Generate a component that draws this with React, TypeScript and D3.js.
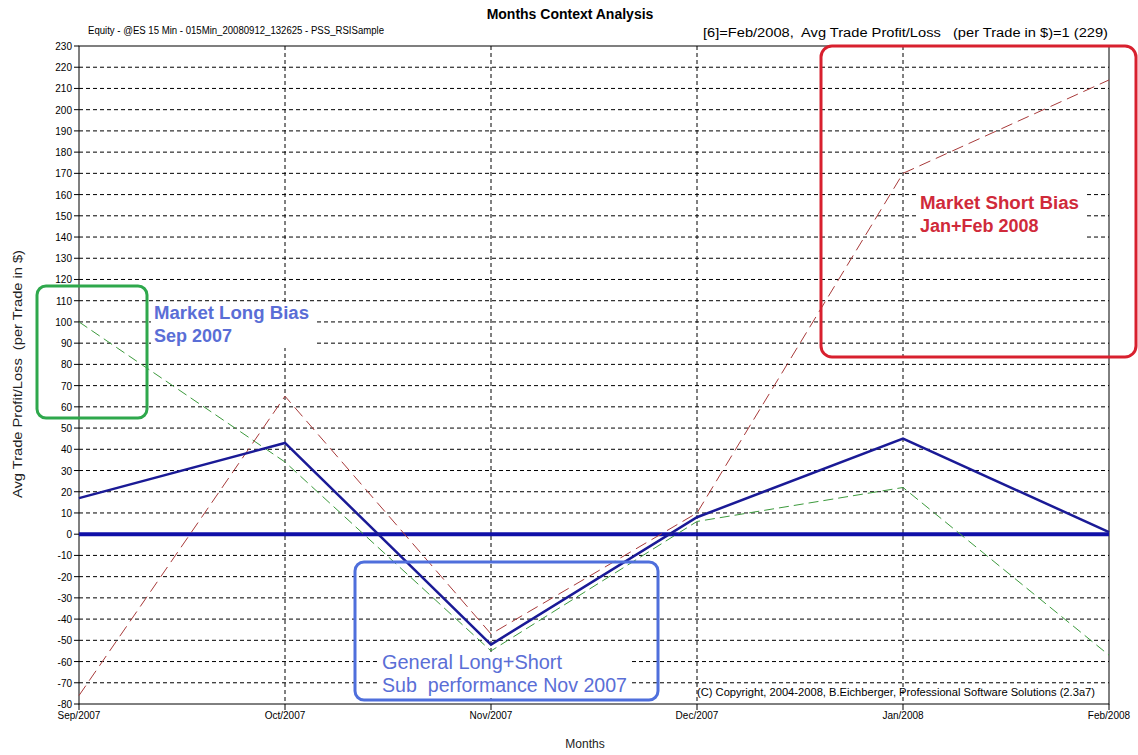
import React from "react";
import * as d3 from "d3";

const months = ["Sep/2007", "Oct/2007", "Nov/2007", "Dec/2007", "Jan/2008", "Feb/2008"];
const allTrades = [17, 43, -52, 8, 45, 1];
const longTrades = [100, 34, -55, 6, 22, -57];
const shortTrades = [-76, 65, -47, 10, 170, 214];
const yTicks = d3.range(-80, 231, 10);

const W = 1138;
const H = 755;
const FONT = "'Liberation Sans', Arial, sans-serif";

export default function App() {
  const x = d3.scalePoint<string>().domain(months).range([79, 1109]);
  const y = d3.scaleLinear().domain([-80, 230]).range([704, 46]);
  const line = d3
    .line<number>()
    .x((_, i) => x(months[i]) as number)
    .y((d) => y(d));

  return (
    <svg width={W} height={H} style={{ position: "absolute", left: 0, top: 0, background: "#fff" }} fontFamily={FONT}>
      {/* horizontal grid */}
      {yTicks
        .filter((t) => t > -80 && t < 230)
        .map((t) => (
          <line key={"h" + t} x1={79} x2={1109} y1={y(t)} y2={y(t)} stroke="#000" strokeDasharray="4,3" />
        ))}
      {/* vertical grid */}
      {months.slice(1, -1).map((m) => (
        <line key={"v" + m} x1={x(m)} x2={x(m)} y1={46} y2={704} stroke="#000" strokeDasharray="4,3" />
      ))}
      {/* frame */}
      <rect x={79} y={46} width={1030} height={658} fill="none" stroke="#000" strokeWidth={1} />
      {/* y ticks */}
      {yTicks.map((t) => (
        <g key={"yt" + t}>
          <line x1={74} x2={79} y1={y(t)} y2={y(t)} stroke="#000" />
          <text x={72} y={y(t) + 4} fontSize={10} textAnchor="end" fill="#000">
            {t}
          </text>
        </g>
      ))}
      {/* x ticks */}
      {months.map((m) => (
        <g key={"xt" + m}>
          <line x1={x(m)} x2={x(m)} y1={704} y2={710} stroke="#000" />
          <text x={x(m)} y={719} fontSize={10} textAnchor="middle" fill="#000">
            {m}
          </text>
        </g>
      ))}

      {/* zero line */}
      <line x1={79} x2={1109} y1={y(0)} y2={y(0)} stroke="#1010a8" strokeWidth={4} />

      {/* series */}
      <path d={line(longTrades) || ""} fill="none" stroke="#3c9a3c" strokeWidth={1} strokeDasharray="10,5" />
      <path d={line(shortTrades) || ""} fill="none" stroke="#a83a3a" strokeWidth={1} strokeDasharray="12,6" />
      <path d={line(allTrades) || ""} fill="none" stroke="#1a1a96" strokeWidth={2.5} />

      {/* titles */}
      <text x={570} y={19} fontSize={14} fontWeight="bold" textAnchor="middle">
        Months Context Analysis
      </text>
      <text x={88} y={34} fontSize={10} textLength={296} lengthAdjust="spacingAndGlyphs">
        Equity - @ES 15 Min - 015Min_20080912_132625 - PSS_RSISample
      </text>
      <text x={703} y={37} fontSize={12} textLength={405} lengthAdjust="spacingAndGlyphs" xmlSpace="preserve">
        [6]=Feb/2008,  Avg Trade Profit/Loss   (per Trade in $)=1 (229)
      </text>
      <text
        transform="translate(22,374) rotate(-90)"
        fontSize={12}
        textAnchor="middle"
        fill="#222"
        textLength={248}
        lengthAdjust="spacingAndGlyphs"
        xmlSpace="preserve"
      >
        Avg Trade Profit/Loss  (per Trade in $)
      </text>
      <text x={585} y={748} fontSize={12} textAnchor="middle" fill="#222">
        Months
      </text>
      <text x={697} y={696} fontSize={10} textLength={398} lengthAdjust="spacingAndGlyphs">
        (C) Copyright, 2004-2008, B.Eichberger, Professional Software Solutions (2.3a7)
      </text>

      {/* annotations */}
      <rect x={37} y={286} width={110} height={132} rx={9} fill="none" stroke="#2ea84c" strokeWidth={3} />
      <rect x={151} y={302} width={165} height={46} fill="#fff" />
      <text x={154} y={319} fontSize={18} fontWeight="bold" fill="#5a6ed6" textLength={155} lengthAdjust="spacingAndGlyphs">
        Market Long Bias
      </text>
      <text x={154} y={342} fontSize={18} fontWeight="bold" fill="#5a6ed6">
        Sep 2007
      </text>

      <rect x={378} y={652} width={254} height={46} fill="#fff" />
      <rect x={355} y={562} width={303} height={138} rx={9} fill="none" stroke="#4f6fdc" strokeWidth={3} />
      <text x={382} y={669} fontSize={20} fill="#5a6ed6" textLength={180} lengthAdjust="spacingAndGlyphs">
        General Long+Short
      </text>
      <text x={382} y={692} fontSize={20} fill="#5a6ed6" textLength={245} lengthAdjust="spacingAndGlyphs" xmlSpace="preserve">
        Sub  performance Nov 2007
      </text>

      <rect x={821} y={46} width={315} height={311} rx={11} fill="none" stroke="#d8202e" strokeWidth={3} />
      <rect x={917} y={190} width={168} height={48} fill="#fff" />
      <text x={920} y={209} fontSize={18} fontWeight="bold" fill="#d02a3a" textLength={159} lengthAdjust="spacingAndGlyphs">
        Market Short Bias
      </text>
      <text x={920} y={232} fontSize={18} fontWeight="bold" fill="#d02a3a">
        Jan+Feb 2008
      </text>
    </svg>
  );
}
